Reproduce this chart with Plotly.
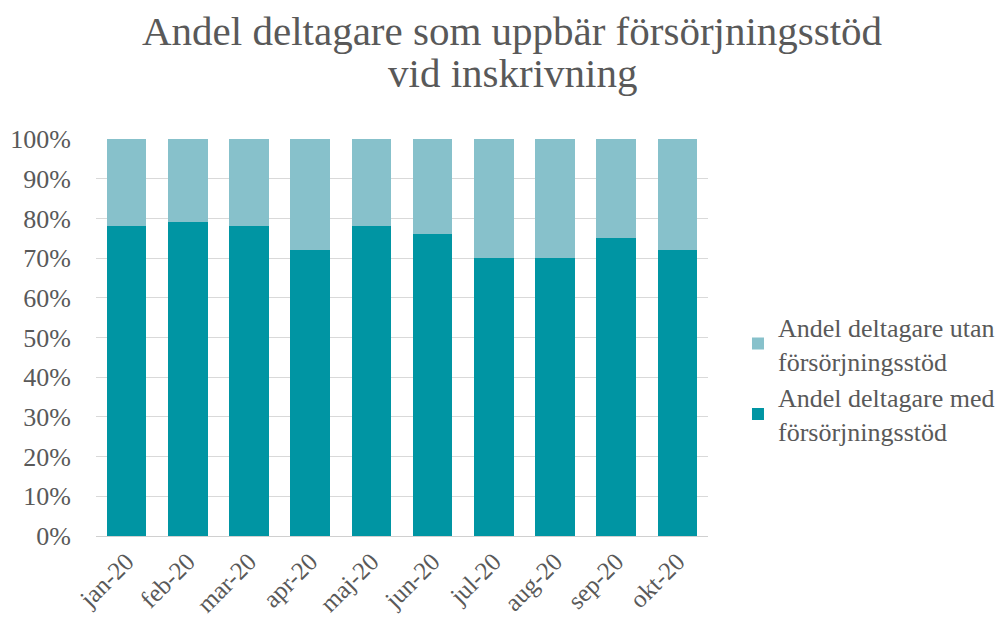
import plotly.graph_objects as go

months = ["jan-20", "feb-20", "mar-20", "apr-20", "maj-20", "jun-20", "jul-20", "aug-20", "sep-20", "okt-20"]
med = [78, 79, 78, 72, 78, 76, 70, 70, 75, 72]
utan = [22, 21, 22, 28, 22, 24, 30, 30, 25, 28]
y_ticks = [0, 10, 20, 30, 40, 50, 60, 70, 80, 90, 100]
title_lines = ["Andel deltagare som uppbär försörjningsstöd", "vid inskrivning"]

FONT = "Liberation Serif, Times New Roman, serif"
GRAY = "#595959"

fig = go.Figure()
fig.add_trace(go.Bar(x=months, y=med, name="Andel deltagare med<br>försörjningsstöd",
                     marker=dict(color="#0095A3", line=dict(width=0))))
fig.add_trace(go.Bar(x=months, y=utan, name="Andel deltagare utan<br>försörjningsstöd",
                     marker=dict(color="#87C1CB", line=dict(width=0))))

# title as two annotations for tight line spacing
fig.add_annotation(text=title_lines[0], xref="paper", yref="paper", x=0.679, y=1.272,
                   xanchor="center", yanchor="middle", showarrow=False,
                   font=dict(family=FONT, size=41, color=GRAY))
fig.add_annotation(text=title_lines[1], xref="paper", yref="paper", x=0.681, y=1.165,
                   xanchor="center", yanchor="middle", showarrow=False,
                   font=dict(family=FONT, size=41, color=GRAY))

fig.update_layout(
    barmode="stack",
    bargap=0.355,
    width=1006, height=622,
    paper_bgcolor="white", plot_bgcolor="white",
    margin=dict(l=88, r=306, t=131, b=94),
    font=dict(family=FONT, color=GRAY, size=24),
    legend=dict(x=1.049, xanchor="left", y=0.395, yanchor="middle",
                traceorder="reversed", font=dict(family=FONT, size=26, color=GRAY),
                itemwidth=30),
    showlegend=True,
)
fig.update_yaxes(range=[0, 100], tickvals=y_ticks, ticktext=[f"{v}%" for v in y_ticks],
                 showgrid=True, gridcolor="#D9D9D9", gridwidth=1, zeroline=False,
                 showline=False, ticks="", ticklabelstandoff=24, automargin=False,
                 tickfont=dict(family=FONT, size=26, color=GRAY))
fig.update_xaxes(tickangle=-45, showline=True, linecolor="#D0D0D0", linewidth=1,
                 ticks="", automargin=False, tickfont=dict(family=FONT, size=25, color=GRAY))

fig.write_html("out.html")
